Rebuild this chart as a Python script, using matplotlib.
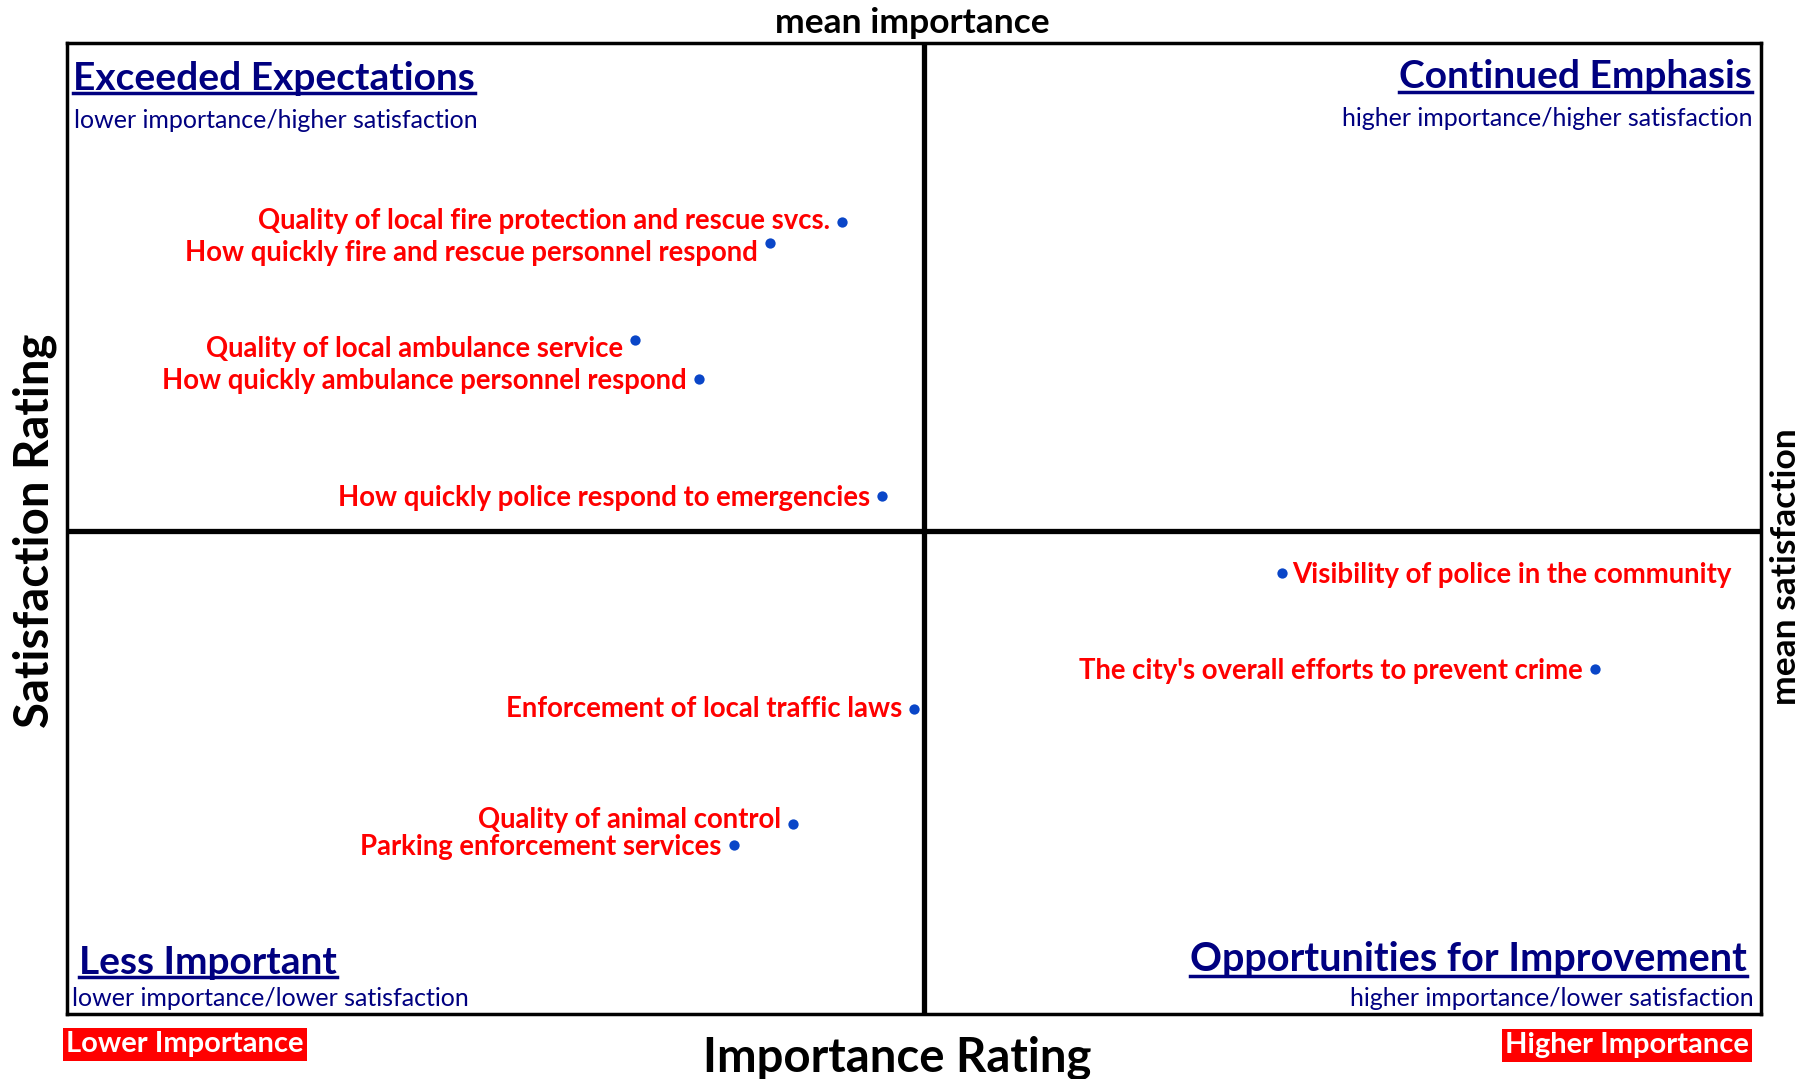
import matplotlib
matplotlib.use("Agg")
import matplotlib.pyplot as plt
from matplotlib.lines import Line2D

plt.rcParams['font.family'] = ['Lato', 'DejaVu Sans']

# importance (x) and satisfaction (y) for each service
labels = [
    "Quality of local fire protection and rescue svcs.",
    "How quickly fire and rescue personnel respond",
    "Quality of local ambulance service",
    "How quickly ambulance personnel respond",
    "How quickly police respond to emergencies",
    "Visibility of police in the community",
    "The city's overall efforts to prevent crime",
    "Enforcement of local traffic laws",
    "Quality of animal control",
    "Parking enforcement services",
]
importance = [27.45, 24.90, 20.12, 22.38, 28.87, 43.03, 54.12, 30.00, 25.71, 23.62]
satisfaction = [88.94, 87.64, 81.65, 79.24, 72.01, 67.25, 61.32, 58.85, 51.74, 50.44]
label_side = ['left', 'left', 'left', 'left', 'left', 'right', 'left', 'left', 'left', 'left']
# small vertical nudges of the labels (pixels, + is up)
label_dy = [1, -10, -9, -2, -2, -2, -2, 0, 4, -2]

mean_importance = 30.35
mean_satisfaction = 69.85

W, H = 1816, 1079
fig = plt.figure(figsize=(W / 100, H / 100), dpi=100)

def fx(x):
    return x / W

def fy(y):
    return 1 - y / H

ax = fig.add_axes([fx(67), fy(1014), (1761 - 67) / W, (1014 - 43) / H])
ax.set_xlim(0, 60)
ax.set_ylim(40, 100)
ax.set_xticks([])
ax.set_yticks([])
for s in ax.spines.values():
    s.set_linewidth(2.5)
    s.set_color('black')

ax.axvline(mean_importance, color='black', lw=3.8)
ax.axhline(mean_satisfaction, color='black', lw=3.8)

ax.scatter(importance, satisfaction, s=55, color='#0a46c8', zorder=3, linewidths=0)

for lab, x, y, side, dy in zip(labels, importance, satisfaction, label_side, label_dy):
    if side == 'left':
        ax.annotate(lab, (x, y), xytext=(-12, dy), textcoords='offset pixels',
                    ha='right', va='center', color='red', fontsize=19.8, fontweight='bold')
    else:
        ax.annotate(lab, (x, y), xytext=(10, dy), textcoords='offset pixels',
                    ha='left', va='center', color='red', fontsize=19.8, fontweight='bold')

navy = '#000080'
titles = []
titles.append(fig.text(fx(73), fy(78), "Exceeded Expectations", ha='left', va='center',
                       color=navy, fontsize=28, fontweight='bold'))
fig.text(fx(74), fy(120), "lower importance/higher satisfaction", ha='left', va='center',
         color=navy, fontsize=18)
titles.append(fig.text(fx(1752), fy(77), "Continued Emphasis", ha='right', va='center',
                       color=navy, fontsize=28, fontweight='bold'))
fig.text(fx(1752), fy(118), "higher importance/higher satisfaction", ha='right', va='center',
         color=navy, fontsize=18)
titles.append(fig.text(fx(79), fy(962), "Less Important", ha='left', va='center',
                       color=navy, fontsize=28, fontweight='bold'))
fig.text(fx(72), fy(998), "lower importance/lower satisfaction", ha='left', va='center',
         color=navy, fontsize=18)
titles.append(fig.text(fx(1747), fy(960), "Opportunities for Improvement", ha='right', va='center',
                       color=navy, fontsize=28.5, fontweight='bold'))
fig.text(fx(1754), fy(998), "higher importance/lower satisfaction", ha='right', va='center',
         color=navy, fontsize=18)

fig.text(fx(912), fy(23), "mean importance", ha='center', va='center',
         fontsize=25.5, fontweight='bold')
fig.text(fx(1786), fy(567), "mean satisfaction", ha='center', va='center', rotation=90,
         fontsize=25.5, fontweight='bold')
fig.text(fx(35), fy(531), "Satisfaction Rating", ha='center', va='center', rotation=90,
         fontsize=34, fontweight='bold')
fig.text(fx(897), fy(1058), "Importance Rating", ha='center', va='center',
         fontsize=34, fontweight='bold')

fig.text(fx(185), fy(1044), "Lower Importance", ha='center', va='center', color='white',
         fontsize=21, fontweight='bold',
         bbox=dict(facecolor='red', edgecolor='none', pad=2.5))
fig.text(fx(1627), fy(1045), "Higher Importance", ha='center', va='center', color='white',
         fontsize=21, fontweight='bold',
         bbox=dict(facecolor='red', edgecolor='none', pad=2.5))

# underline the quadrant titles
fig.canvas.draw()
r = fig.canvas.get_renderer()
for t in titles:
    bb = t.get_window_extent(r)
    yl = bb.y0 + 3
    fig.add_artist(Line2D([bb.x0 / W, bb.x1 / W], [yl / H, yl / H], color=navy, lw=2.5))

fig.savefig("out.png", dpi=100)
